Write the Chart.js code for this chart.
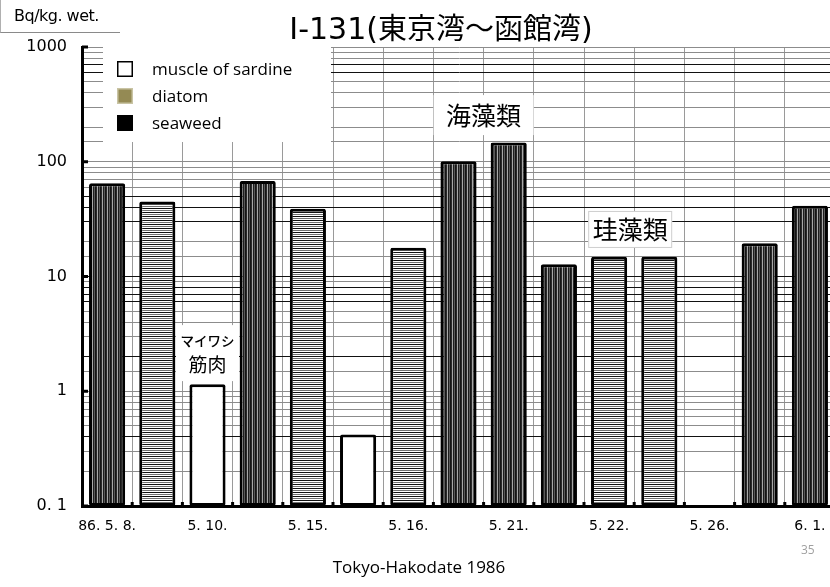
<!DOCTYPE html>
<html>
<head>
<meta charset="utf-8">
<script src="https://cdn.jsdelivr.net/npm/chart.js@4.4.1/dist/chart.umd.min.js"></script>
<style>
  html, body { margin: 0; padding: 0; background: #fff; width: 830px; height: 587px; overflow: hidden; }
  #wrap { position: absolute; left: 0; top: 0; width: 840px; height: 587px; }
  .unit { position: absolute; left: 0; top: 0; width: 120px; height: 33px; box-sizing: border-box;
          border-left: 1px solid #b0b0b0; border-bottom: 1px solid #8a8a8a;
          font: 16px "DejaVu Sans", sans-serif; line-height: 32px; padding-left: 13px; color: #000; letter-spacing: -0.5px; }
  .title { position: absolute; left: 441px; top: 10px; transform: translateX(-50%); white-space: nowrap;
           font: 29px "Noto Sans CJK JP", sans-serif; line-height: 32px; color: #000; }
  .title .lat { font-family: "DejaVu Sans", sans-serif; font-size: 30px; }
  .caption { position: absolute; left: 419px; top: 556px; transform: translateX(-50%); white-space: nowrap;
             font: 17px "Open Sans", sans-serif; line-height: 22px; color: #000; }
  .page { position: absolute; left: 801px; top: 541px; font: 12px "Open Sans", sans-serif; color: #a0a0a0; }
</style>
</head>
<body>
<div id="wrap"><canvas id="c" width="840" height="587"></canvas></div>
<div class="unit">Bq/kg. wet.</div>
<div class="title"><span class="lat">I-131(</span>東京湾～函館湾<span class="lat">)</span></div>
<div class="caption">Tokyo-Hakodate 1986</div>
<div class="page">35</div>
<script>
// Sampling dates, one tick label per pair of sample slots
const dateLabels = ['86. 5. 8.', '5. 10.', '5. 15.', '5. 16.', '5. 21.', '5. 22.', '5. 26.', '6. 1.'];

// I-131 concentration (Bq/kg wet) for each of the 15 sample slots
const sardineMuscle = [null, null, 1.15, null, null, 0.42, null, null, null, null, null, null, null, null, null];
const diatom        = [null, 45, null, null, 39, null, 17.8, null, null, null, 14.9, 14.9, null, null, null];
const seaweed       = [65, null, null, 68, null, null, null, 101, 147, 12.8, null, null, null, 19.5, 41.4];

// Decade labels on the value axis
const decadeLabels = { '-1': '0. 1', '0': '1', '1': '10', '2': '100', '3': '1000' };

// Minor grid values drawn in a darker ink
const darkGridValues = [600, 700, 30, 40, 50, 10, 8, 7, 6, 2, 0.4];

const slotLabels = sardineMuscle.map((_, i) => (i % 2 === 0 ? dateLabels[i / 2] : ''));

const tickFont = '"DejaVu Sans", sans-serif';

function makePattern(w, h, paint) {
  const c = document.createElement('canvas');
  c.width = w; c.height = h;
  const g = c.getContext('2d');
  paint(g);
  return g.createPattern(c, 'repeat');
}
// seaweed: dark vertical hatching
const seaweedFill = makePattern(5, 1, g => {
  const cols = ['#151515', '#2a2a2a', '#a8a8a8', '#1e1e1e', '#5a5a5a'];
  cols.forEach((col, i) => { g.fillStyle = col; g.fillRect(i, 0, 1, 1); });
});
// diatom: horizontal hatching
const diatomFill = makePattern(1, 4, g => {
  const rows = ['#111111', '#ffffff', '#707070', '#ffffff'];
  rows.forEach((col, i) => { g.fillStyle = col; g.fillRect(0, i, 1, 1); });
});

const legendSwatches = [
  { fill: '#ffffff', stroke: '#000000' },
  { fill: '#948a54', stroke: '#c9c4a4' },
  { fill: '#000000', stroke: '#000000' }
];

function decadeOf(v) {
  const lg = Math.log10(v);
  const r = Math.round(lg);
  return Math.abs(lg - r) < 1e-6 ? r : null;
}
function isDarkGrid(v) {
  return darkGridValues.some(d => Math.abs(v - d) / d < 1e-6);
}

const notes = [
  { lines: ['海藻類'], at: [7.5, 255], fonts: ['25px "Noto Sans CJK JP"'], box: [100, 40], border: null },
  { lines: ['珪藻類'], at: [10.42, 25.7], fonts: ['25px "Noto Sans CJK JP"'], box: [84, 37], border: '#cfcfcf' },
  { lines: ['マイワシ', '筋肉'], at: [2, 2.15], fonts: ['500 13.5px "Noto Sans CJK JP"', '19px "Noto Sans CJK JP"'], box: [63, 56], border: null, gap: 24 }
];

const overlay = {
  id: 'overlay',
  afterDatasetsDraw(chart) {
    const { ctx, chartArea: a, scales: { x, y } } = chart;
    ctx.save();

    // decade marks inside the value axis
    ctx.fillStyle = '#000';
    [0.1, 1, 10, 100, 1000].forEach(v => {
      ctx.fillRect(a.left, y.getPixelForValue(v) - 1.5, 6, 3);
    });
    // small marks between sample slots on the base line
    for (let i = 1; i < slotLabels.length; i++) {
      const px = (x.getPixelForValue(i - 1) + x.getPixelForValue(i)) / 2;
      ctx.fillRect(px - 1.5, a.bottom - 4, 3, 4);
    }

    // legend panel
    const lx = a.left + 21, ly = a.top - 3, lw = 228, lh = 98;
    ctx.fillStyle = '#fff';
    ctx.fillRect(lx, ly, lw, lh);
    ctx.font = '17px "Open Sans", sans-serif';
    ctx.textBaseline = 'middle';
    ctx.textAlign = 'left';
    chart.data.datasets.forEach((ds, i) => {
      const cy = ly + 25 + i * 27;
      const sw = legendSwatches[i];
      ctx.fillStyle = sw.fill;
      ctx.fillRect(lx + 14, cy - 8, 16, 16);
      ctx.strokeStyle = sw.stroke;
      ctx.lineWidth = 1.5;
      ctx.strokeRect(lx + 14.75, cy - 7.25, 14.5, 14.5);
      ctx.fillStyle = '#000';
      ctx.fillText(ds.label, lx + 49, cy + 1);
    });

    // group notes
    notes.forEach(n => {
      const cx = x.getPixelForValue(n.at[0]);
      const cy = y.getPixelForValue(n.at[1]);
      const [bw, bh] = n.box;
      ctx.fillStyle = '#fff';
      ctx.fillRect(cx - bw / 2, cy - bh / 2, bw, bh);
      if (n.border) {
        ctx.strokeStyle = n.border;
        ctx.lineWidth = 1;
        ctx.strokeRect(cx - bw / 2 + 0.5, cy - bh / 2 + 0.5, bw - 1, bh - 1);
      }
      ctx.fillStyle = '#000';
      ctx.textAlign = 'center';
      ctx.textBaseline = 'middle';
      const gap = n.gap || 0;
      n.lines.forEach((t, k) => {
        ctx.font = n.fonts[k];
        ctx.fillText(t, cx, cy + (k - (n.lines.length - 1) / 2) * gap);
      });
    });
    ctx.restore();
  }
};

const barStyle = {
  borderColor: '#000',
  borderWidth: 3,
  borderRadius: 2,
  borderSkipped: false,
  categoryPercentage: 1,
  barPercentage: 0.72,
  grouped: false
};

new Chart(document.getElementById('c'), {
  type: 'bar',
  data: {
    labels: slotLabels,
    datasets: [
      Object.assign({ label: 'muscle of sardine', data: sardineMuscle, backgroundColor: '#ffffff' }, barStyle),
      Object.assign({ label: 'diatom', data: diatom, backgroundColor: diatomFill }, barStyle),
      Object.assign({ label: 'seaweed', data: seaweed, backgroundColor: seaweedFill }, barStyle)
    ]
  },
  options: {
    responsive: false,
    animation: false,
    layout: { padding: { top: 47, left: 0, right: 5, bottom: 0 } },
    plugins: { legend: { display: false }, tooltip: { enabled: false }, title: { display: false } },
    scales: {
      x: {
        type: 'category',
        offset: true,
        border: { color: '#000', width: 3 },
        grid: { color: '#9a9a9a', lineWidth: 1, offset: true, drawTicks: false },
        ticks: { autoSkip: false, maxRotation: 0, padding: 12, color: '#000',
                 font: { family: tickFont, size: 14 } },
        afterFit(s) { s.height = 81; }
      },
      y: {
        type: 'logarithmic',
        min: 0.1,
        max: 1000,
        border: { color: '#000', width: 3 },
        grid: {
          drawTicks: false,
          lineWidth: 1,
          color: c => {
            const v = c.tick && c.tick.value;
            if (v == null) return '#999';
            return isDarkGrid(v) ? '#111' : '#8c8c8c';
          }
        },
        ticks: {
          autoSkip: false,
          padding: 15,
          color: '#000',
          font: { family: tickFont, size: 16 },
          callback: v => {
            const d = decadeOf(v);
            return d === null ? '' : decadeLabels[String(d)];
          }
        },
        afterFit(s) { s.width = 82; }
      }
    }
  },
  plugins: [overlay]
});
</script>
</body>
</html>
